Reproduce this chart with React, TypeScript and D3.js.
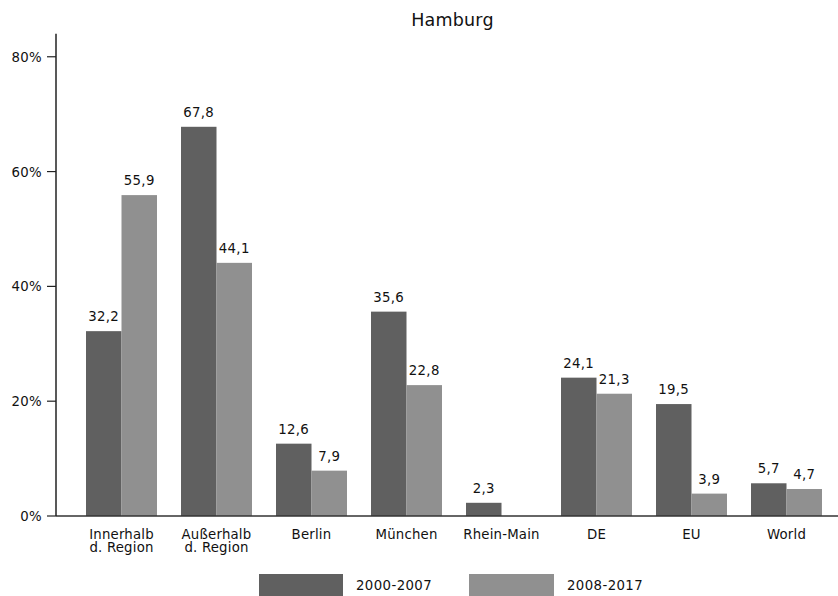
import React from "react";
import * as d3 from "d3";

const categories = ["Innerhalb\nd. Region", "Außerhalb\nd. Region", "Berlin", "München", "Rhein-Main", "DE", "EU", "World"];
const series1Name = "2000-2007";
const series2Name = "2008-2017";
const series1 = [32.2, 67.8, 12.6, 35.6, 2.3, 24.1, 19.5, 5.7];
const series2: (number | null)[] = [55.9, 44.1, 7.9, 22.8, null, 21.3, 3.9, 4.7];
const yTicks = [0, 20, 40, 60, 80];
const title = "Hamburg";

const W = 838, H = 596;
const FONT = "Verdana, 'DejaVu Sans', sans-serif";
const C1 = "#606060";
const C2 = "#909090";
const FS = 13.3;

export default function App() {
  const x = d3.scaleBand<string>().domain(categories).range([74, 834]).paddingInner(0.2526).paddingOuter(0.1263);
  const y = d3.scaleLinear().domain([0, 84]).range([516, 33.8]);
  const bw = x.bandwidth() / 2;
  const fmt = (v: number) => d3.format(".1f")(v).replace(".", ",");
  const bars: any[] = [];
  categories.forEach((c, i) => {
    const x0 = x(c)!;
    [series1[i], series2[i]].forEach((v, j) => {
      if (v == null) return;
      const bx = x0 + j * bw;
      bars.push(
        <g key={c + j}>
          <rect x={bx} y={y(v)} width={bw} height={y(0) - y(v)} fill={j === 0 ? C1 : C2} />
          <text x={bx + bw / 2} y={y(v) - 10} textAnchor="middle" fontSize={FS} fill="#111" letterSpacing={0.3}>{fmt(v)}</text>
        </g>
      );
    });
  });
  return (
    <svg width={W} height={H} style={{ position: "absolute", left: 0, top: 0, fontFamily: FONT }}>
      <rect width={W} height={H} fill="#fff" />
      <text x={452.5} y={26} textAnchor="middle" fontSize={17.5} fill="#111" letterSpacing={0.2}>{title}</text>
      {bars}
      <line x1={56} x2={838} y1={y(0)} y2={y(0)} stroke="#333" strokeWidth={1.5} />
      <line x1={56} x2={56} y1={y(0)} y2={y.range()[1]} stroke="#222" strokeWidth={1.5} />
      {yTicks.map(t => (
        <g key={t}>
          <line x1={47} x2={56} y1={y(t)} y2={y(t)} stroke="#222" strokeWidth={1.2} />
          <text x={42} y={y(t) + 5} textAnchor="end" fontSize={FS} fill="#111" letterSpacing={0.3}>{t}%</text>
        </g>
      ))}
      {categories.map(c => {
        const lines = c.split("\n");
        const cx = x(c)! + x.bandwidth() / 2;
        return lines.map((l, k) => (
          <text key={c + k} x={cx} y={539 + k * 13} textAnchor="middle" fontSize={FS} fill="#111" letterSpacing={0.2}>{l}</text>
        ));
      })}
      <rect x={259} y={574} width={84} height={22} fill={C1} />
      <text x={356} y={590} fontSize={FS} fill="#111" letterSpacing={0.4}>{series1Name}</text>
      <rect x={469} y={574} width={85} height={22} fill={C2} />
      <text x={567} y={590} fontSize={FS} fill="#111" letterSpacing={0.4}>{series2Name}</text>
    </svg>
  );
}
